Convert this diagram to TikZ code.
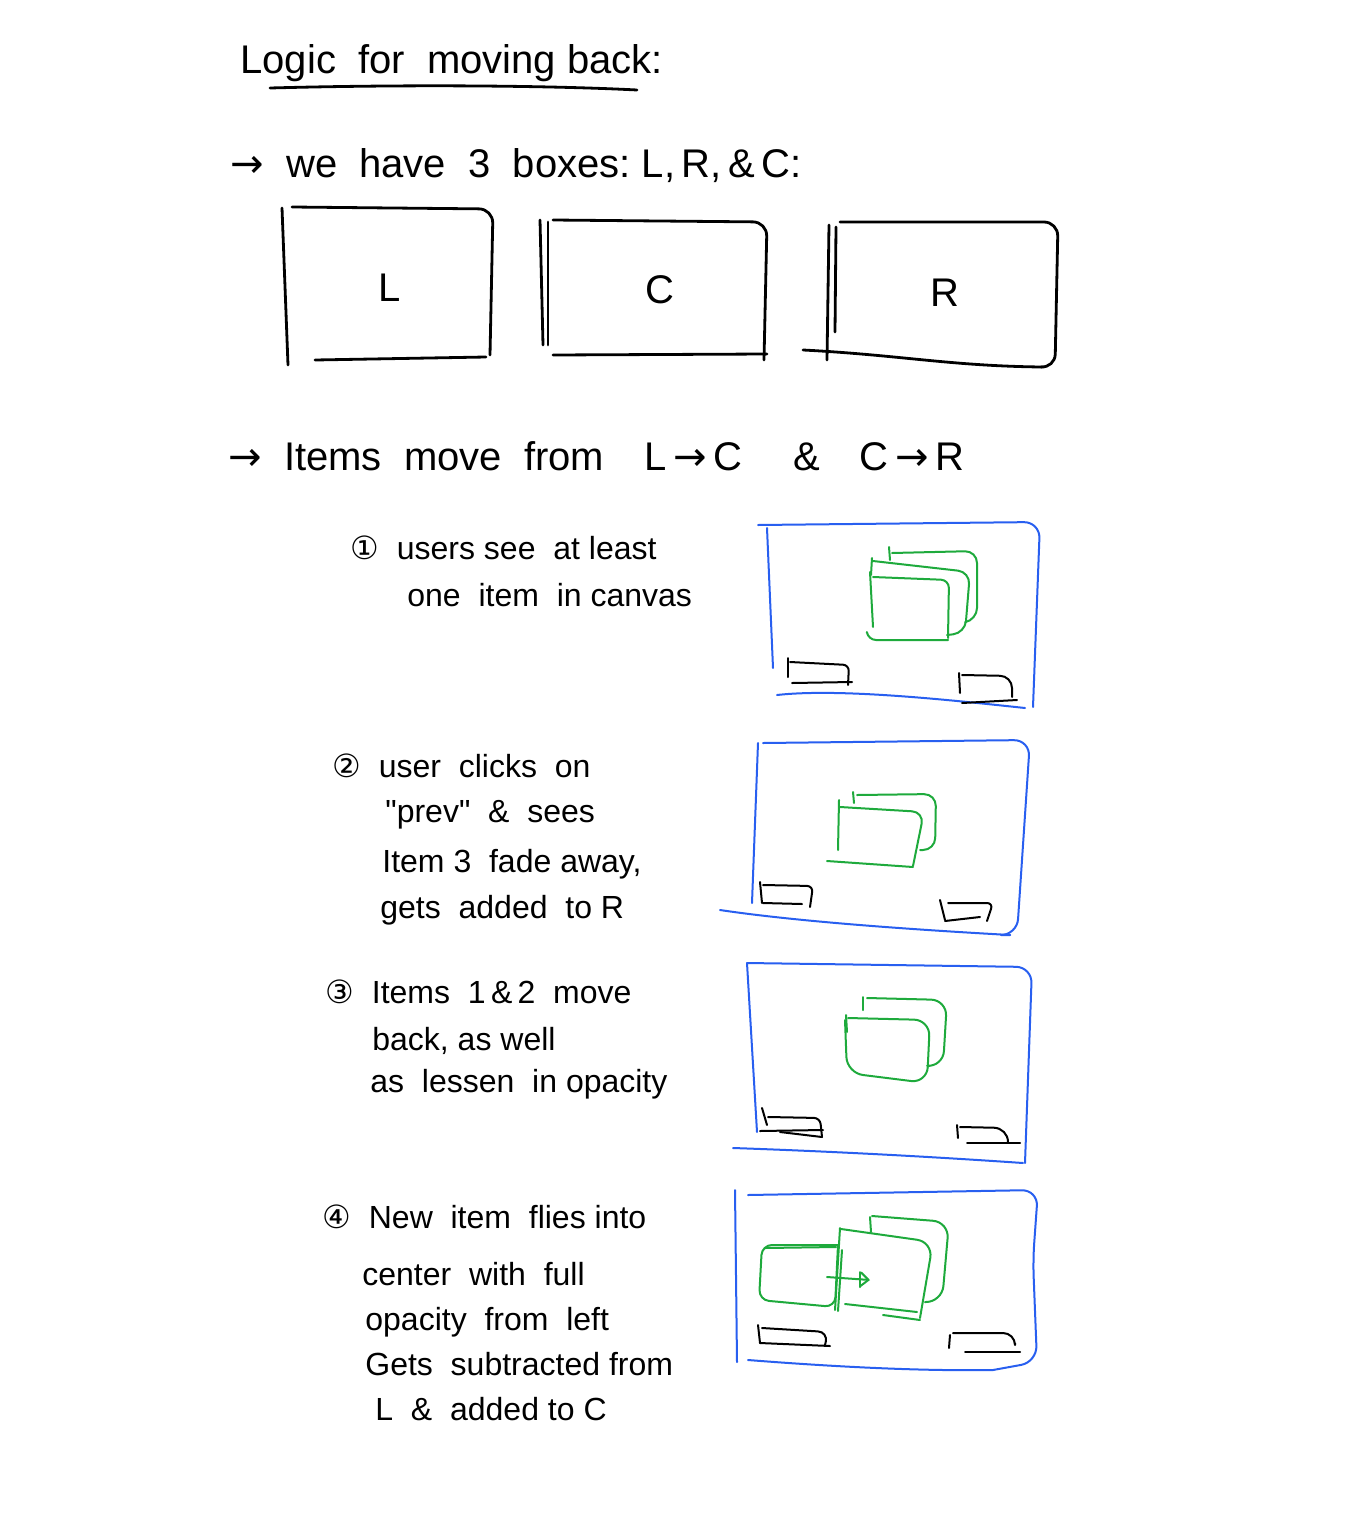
\documentclass[tikz,border=0pt]{standalone}
\usepackage{fontspec}
\setmainfont{Liberation Sans}
\newfontfamily\symf{DejaVu Sans}
\newfontfamily\plainf{Liberation Sans}
\usetikzlibrary{arrows.meta}
\definecolor{canvasblue}{RGB}{40,95,240}
\definecolor{cardgreen}{RGB}{30,170,60}
\begin{document}
\begin{tikzpicture}[x=0.5pt,y=-0.5pt,
  ink/.style={line width=1.4pt,line cap=round,line join=round},
  cv/.style={draw=canvasblue,line width=1pt,line cap=round,line join=round},
  card/.style={draw=cardgreen,line width=1pt,line cap=round,line join=round},
  btn/.style={draw=black,line width=1pt,line cap=round,line join=round},
  bigtxt/.style={anchor=mid west,inner sep=0pt,font=\fontsize{20}{24}\selectfont},
  steptxt/.style={anchor=mid west,inner sep=0pt,font=\fontsize{16}{19}\selectfont},
  boxlbl/.style={inner sep=0pt,font=\fontsize{20}{24}\selectfont}]
\useasboundingbox (0,0) rectangle (1355,1515);
\fill[white] (0,0) rectangle (1355,1515);

% ---- title
\node[bigtxt] (title) at (240,68) {Logic\ \ for\ \ moving\ back:};
\draw[ink] (270,88) .. controls (420,84) and (560,86) .. (637,90);

% ---- line 2
\node[bigtxt] (boxesline) at (230,172) {{\symf →}\ \ we\ \ have\ \ 3\ \ boxes:\ L,\,R,\,\&\,C:};

% ---- three boxes
\draw[ink] (282,208) -- (288,365);
\draw[ink,rounded corners=7pt] (292,207) -- (493,209) -- (490,355);
\draw[ink] (315,360) -- (486,357);
\node[boxlbl] (lblL) at (390,288) {L};

\draw[ink] (540,220) -- (543,345);
\draw[ink] (548,222) -- (548,345);
\draw[ink,rounded corners=7pt] (553,220) -- (767,222) -- (764,360);
\draw[ink] (553,355) -- (767,354);
\node[boxlbl] (lblC) at (660,290) {C};

\draw[ink] (829,225) -- (827,360);
\draw[ink] (836,227) -- (835,332);
\draw[ink,rounded corners=7pt] (840,222) -- (1058,222) -- (1055,368) -- (1042,367);
\draw[ink] (803,350) .. controls (900,355) and (950,366) .. (1042,367);
\node[boxlbl] (lblR) at (945,293) {R};

% ---- line 3
\node[bigtxt] (moveline) at (228,465) {{\symf →}\ \ Items\ \ move\ \ from\quad L\,{\symf →}\,C\quad\ \&\quad C\,{\symf →}\,R};

% ---- step 1
\node[steptxt] (s1a) at (350,554) {{\symf ①}\ \ users\ see\ \ at\ least};
\node[steptxt] (s1b) at (407,601) {one\ \ item\ \ in\ canvas};

\draw[cv,rounded corners=8pt] (758,525) -- (1040,522) -- (1033,707);
\draw[cv] (767,528) -- (773,668);
\draw[cv] (777,695) .. controls (840,688) and (950,700) .. (1025,708);
% cards
\draw[card] (889,547) -- (890,560);
\draw[card,rounded corners=6pt] (892,553) -- (977,551) -- (977,620) -- (966,622);
\draw[card] (872,558) -- (871,575);
\draw[card,rounded corners=6pt] (873,561) -- (970,572) -- (965,633) -- (947,635);
\draw[card] (870,572) -- (873,627);
\draw[card,rounded corners=4pt] (873,577) -- (949,580) -- (948,638);
\draw[card,rounded corners=4pt] (867,633) -- (868,640) -- (948,640);
% buttons
\draw[btn] (788,658) -- (788,677);
\draw[btn,rounded corners=3pt] (790,662) -- (849,665) -- (848,685);
\draw[btn] (792,683) -- (852,682);
\draw[btn] (959,673) -- (960,693);
\draw[btn,rounded corners=6pt] (962,675) -- (1012,676) -- (1012,697);
\draw[btn] (962,703) -- (1017,700);

% ---- step 2
\node[steptxt] (s2a) at (332,772) {{\symf ②}\ \ user\ \ clicks\ \ on};
\node[steptxt] (s2b) at (385,817) {{\plainf "}prev{\plainf "}\ \ \&\ \ sees};
\node[steptxt] (s2c) at (382,867) {Item\ 3\ \ fade\ away,};
\node[steptxt] (s2d) at (380,913) {gets\ \ added\ \ to\ R};

\draw[cv,rounded corners=8pt] (763,743) -- (1030,740) -- (1017,935) -- (1010,935);
\draw[cv] (758,743) -- (752,903);
\draw[cv] (720,910) .. controls (800,922) and (920,930) .. (1010,935);
\draw[card] (853,792) -- (854,803);
\draw[card,rounded corners=6pt] (857,795) -- (936,794) -- (935,850) -- (920,850);
\draw[card] (839,800) -- (838,850);
\draw[card,rounded corners=6pt] (840,807) -- (924,812) -- (913,866);
\draw[card] (827,861) -- (913,867);
\draw[btn] (760,882) -- (762,903);
\draw[btn,rounded corners=3pt] (763,885) -- (813,886) -- (810,907);
\draw[btn] (763,903) -- (802,904);
\draw[btn] (940,900) -- (945,920);
\draw[btn,rounded corners=3pt] (948,903) -- (993,903) -- (987,921);
\draw[btn] (945,921) -- (980,917);

% ---- step 3
\node[steptxt] (s3a) at (325,998) {{\symf ③}\ \ Items\ \ 1\,\&\,2\ \ move};
\node[steptxt] (s3b) at (372,1045) {back,\ as\ well};
\node[steptxt] (s3c) at (370,1087) {as\ \ lessen\ \ in\ opacity};

\draw[cv,rounded corners=8pt] (747,963) -- (1032,967) -- (1025,1163);
\draw[cv] (747,963) -- (757,1132);
\draw[cv] (733,1148) .. controls (850,1152) and (950,1158) .. (1023,1163);
\draw[card] (863,997) -- (863,1010);
\draw[card,rounded corners=8pt] (867,998) -- (947,1000) -- (943,1067) -- (930,1066);
\draw[card] (846,1015) -- (847,1032);
\draw[card,rounded corners=8pt] (848,1018) -- (930,1020) -- (927,1083) -- (847,1073) -- (845,1020);
\draw[btn] (762,1108) -- (767,1125);
\draw[btn,rounded corners=3pt] (768,1117) -- (820,1118) -- (822,1137);
\draw[btn] (760,1131) -- (823,1130);
\draw[btn] (780,1132) -- (822,1137);
\draw[btn] (957,1125) -- (958,1138);
\draw[btn,rounded corners=7pt] (960,1127) -- (1008,1128) -- (1008,1142);
\draw[btn] (967,1143) -- (1020,1143);

% ---- step 4
\node[steptxt] (s4a) at (322,1223) {{\symf ④}\ \ New\ \ item\ \ flies\ into};
\node[steptxt] (s4b) at (362,1280) {center\ \ with\ \ full};
\node[steptxt] (s4c) at (365,1325) {opacity\ \ from\ \ left};
\node[steptxt] (s4d) at (365,1370) {Gets\ \ subtracted\ from};
\node[steptxt] (s4e) at (375,1415) {L\ \ \&\ \ added\ to\ C};

\draw[cv] (735,1190) -- (737,1362);
\draw[cv,rounded corners=8pt] (748,1195) -- (1038,1190) -- (1033,1260) -- (1037,1362) -- (993,1370);
\draw[cv] (748,1360) .. controls (850,1368) and (930,1371) .. (993,1370);
% back card
\draw[card] (870,1217) -- (871,1232);
\draw[card,rounded corners=8pt] (872,1216) -- (949,1222) -- (942,1302) -- (925,1302);
% middle card
\draw[card] (840,1228) -- (835,1310);
\draw[card,rounded corners=8pt] (841,1229) -- (933,1242) -- (920,1318);
\draw[card] (845,1304) -- (917,1312);
\draw[card] (883,1315) -- (920,1320);
% left card
\draw[card,rounded corners=5pt] (838,1245) -- (762,1245) -- (759,1300) -- (835,1307) -- (838,1245);
\draw[card] (765,1248) -- (836,1247);
\draw[card] (842,1250) -- (838,1311);
% fly-in arrow
\draw[card,-{Straight Barb[length=4pt,width=7pt]}] (827,1277) -- (870,1280);
\draw[card] (860,1272) -- (860,1287);
% buttons
\draw[btn] (758,1325) -- (760,1343);
\draw[btn,rounded corners=5pt] (762,1328) -- (828,1332) -- (825,1345);
\draw[btn] (760,1343) -- (830,1346);
\draw[btn] (950,1335) -- (949,1348);
\draw[btn,rounded corners=6pt] (953,1333) -- (1015,1333) -- (1015,1343);
\draw[btn] (965,1352) -- (1020,1352);
\end{tikzpicture}
\end{document}
